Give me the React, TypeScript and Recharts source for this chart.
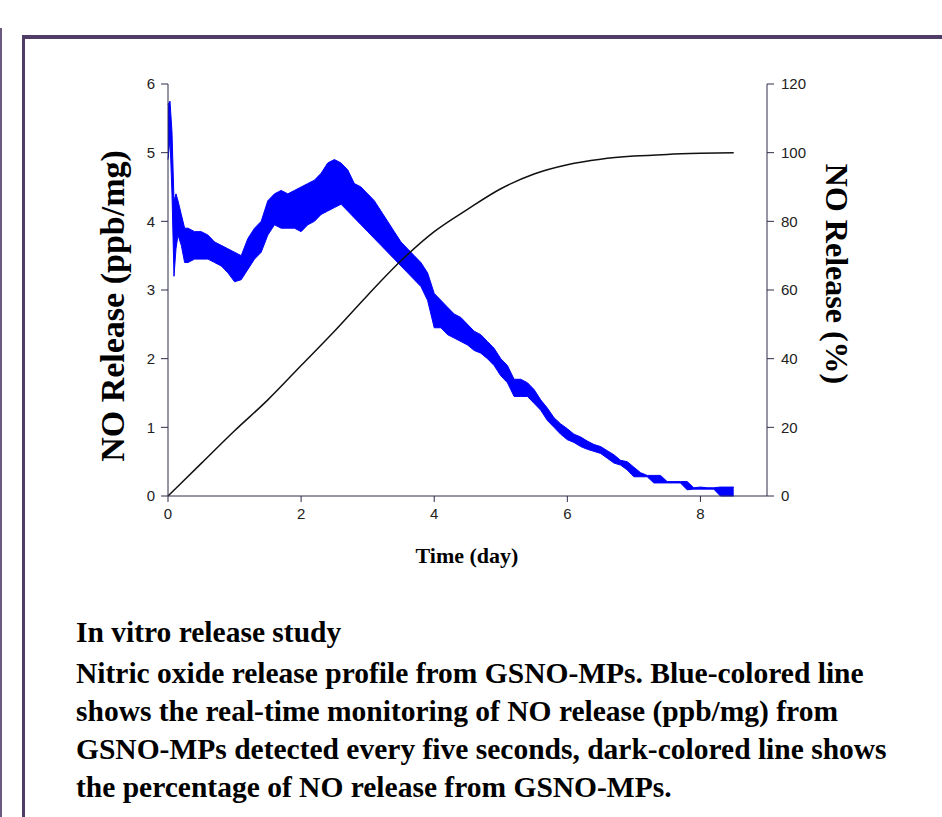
import { Area, ComposedChart, Line, XAxis, YAxis } from "recharts";

// real-time NO signal, read as a lower/upper envelope of the noisy trace (ppb/mg)
const BLUE_TIME = [
  0, 0.03, 0.06, 0.09, 0.12, 0.15, 0.2, 0.25, 0.3, 0.4, 0.5, 0.6, 0.7, 0.8, 0.9, 1.0, 1.1, 1.2, 1.3, 1.4,
  1.5, 1.6, 1.7, 1.8, 1.9, 2.0, 2.1, 2.2, 2.3, 2.4, 2.5, 2.6, 2.7, 2.8, 2.9, 3.0, 3.1, 3.2, 3.3, 3.4,
  3.5, 3.6, 3.7, 3.8, 3.9, 4.0, 4.1, 4.2, 4.3, 4.4, 4.5, 4.6, 4.7, 4.8, 4.9, 5.0, 5.1, 5.2, 5.3, 5.4,
  5.5, 5.6, 5.7, 5.8, 5.9, 6.0, 6.1, 6.2, 6.3, 6.4, 6.5, 6.6, 6.7, 6.8, 6.9, 7.0, 7.1, 7.2, 7.3, 7.4,
  7.5, 7.6, 7.7, 7.8, 7.9, 8.0, 8.1, 8.2, 8.3, 8.4, 8.5,
];
const BLUE_LOW = [
  4.9, 5.2, 4.4, 3.2, 3.6, 3.8, 3.65, 3.4, 3.4, 3.45, 3.45, 3.45, 3.4, 3.35, 3.25, 3.12, 3.15, 3.3, 3.45, 3.55,
  3.8, 3.95, 3.9, 3.9, 3.9, 3.85, 3.95, 4.0, 4.1, 4.15, 4.2, 4.25, 4.15, 4.05, 3.95, 3.85, 3.75, 3.65, 3.55, 3.45,
  3.35, 3.25, 3.15, 3.05, 2.85, 2.45, 2.45, 2.35, 2.3, 2.25, 2.2, 2.12, 2.08, 2.0, 1.9, 1.75, 1.65, 1.45, 1.45, 1.45,
  1.35, 1.25, 1.1, 1.0, 0.9, 0.82, 0.78, 0.72, 0.68, 0.65, 0.62, 0.55, 0.48, 0.45, 0.38, 0.28, 0.28, 0.28, 0.19, 0.19,
  0.19, 0.19, 0.19, 0.09, 0.1, 0.1, 0.1, 0.1, 0.0, 0.0, 0.0,
];
const BLUE_HIGH = [
  5.7, 5.75, 5.3, 4.3, 4.4, 4.3, 4.1, 3.9, 3.9, 3.85, 3.85, 3.8, 3.7, 3.65, 3.6, 3.55, 3.5, 3.75, 3.9, 4.0,
  4.3, 4.4, 4.45, 4.4, 4.45, 4.5, 4.55, 4.6, 4.7, 4.85, 4.9, 4.85, 4.75, 4.55, 4.5, 4.4, 4.3, 4.15, 4.0, 3.85,
  3.7, 3.6, 3.5, 3.4, 3.25, 2.95, 2.85, 2.75, 2.65, 2.6, 2.5, 2.4, 2.35, 2.25, 2.15, 2.0, 1.9, 1.7, 1.7, 1.65,
  1.55, 1.4, 1.28, 1.14, 1.05, 0.98, 0.9, 0.86, 0.8, 0.75, 0.72, 0.66, 0.6, 0.52, 0.5, 0.42, 0.34, 0.3, 0.3, 0.3,
  0.21, 0.21, 0.21, 0.21, 0.12, 0.13, 0.12, 0.12, 0.13, 0.13, 0.13,
];

// cumulative NO release (%)
const PCT_TIME = [0, 0.5, 1.0, 1.5, 2.0, 2.5, 3.0, 3.5, 4.0, 4.5, 5.0, 5.5, 6.0, 6.5, 7.0, 7.5, 8.0, 8.5];
const PCT_VALUE = [0, 9.5, 19, 28, 38, 48, 58.5, 68.5, 77, 83.5, 89.5, 93.8, 96.5, 98.1, 99, 99.5, 99.8, 100];

const X_TICKS = [0, 2, 4, 6, 8];
const LEFT_TICKS = [0, 1, 2, 3, 4, 5, 6];
const RIGHT_TICKS = [0, 20, 40, 60, 80, 100, 120];

const CAPTION_TITLE = "In vitro release study";
const CAPTION = [
  "Nitric oxide release profile from GSNO-MPs. Blue-colored line",
  "shows the real-time monitoring of NO release (ppb/mg) from",
  "GSNO-MPs detected every five seconds, dark-colored line shows",
  "the percentage of NO release from GSNO-MPs.",
];

const data = BLUE_TIME.map((t, i) => {
  const j = PCT_TIME.indexOf(t);
  return {
    t,
    blue: [BLUE_LOW[i], BLUE_HIGH[i]],
    pct: j >= 0 ? PCT_VALUE[j] : undefined,
  };
});

const axisColor = "#2e2d48";
const serif = "'Liberation Serif', 'Times New Roman', serif";
const sans = "'Liberation Sans', Arial, sans-serif";

// own tick text so the font size sticks
function makeTick(anchor: "start" | "middle" | "end", dy: string) {
  return (props: any) => (
    <text
      x={props.x}
      y={props.y}
      dy={dy}
      textAnchor={anchor}
      fill="#222"
      fontSize={15}
      fontFamily={sans}
    >
      {props.payload.value}
    </text>
  );
}

export default function App() {
  return (
    <div style={{ position: "absolute", left: 0, top: 0, width: 942, height: 817, background: "#fff", overflow: "hidden" }}>
      {/* frame lines */}
      <div style={{ position: "absolute", left: 0, top: 28, width: 2, height: 800, background: "#6a5a80" }} />
      <div style={{ position: "absolute", left: 22, top: 35, width: 3, height: 800, background: "#4f3d68" }} />
      <div style={{ position: "absolute", left: 22, top: 35, width: 940, height: 4, background: "#4f3d68" }} />

      <div style={{ position: "absolute", left: 0, top: 0 }}>
        <ComposedChart width={942} height={526} data={data} margin={{ top: 84, right: 0, bottom: 0, left: 0 }}>
          <XAxis
            dataKey="t"
            type="number"
            domain={[0, 9]}
            ticks={X_TICKS}
            height={30}
            tick={makeTick("middle", "0.71em")}
            tickSize={6}
            tickMargin={6}
            axisLine={{ stroke: axisColor }}
            tickLine={{ stroke: axisColor }}
          />
          <YAxis
            yAxisId="left"
            domain={[0, 6]}
            ticks={LEFT_TICKS}
            width={168}
            tick={makeTick("end", "0.355em")}
            tickSize={7}
            tickMargin={6}
            axisLine={{ stroke: axisColor }}
            tickLine={{ stroke: axisColor }}
          />
          <YAxis
            yAxisId="right"
            orientation="right"
            domain={[0, 120]}
            ticks={RIGHT_TICKS}
            width={175}
            tick={makeTick("start", "0.355em")}
            tickSize={7}
            tickMargin={7}
            axisLine={{ stroke: axisColor }}
            tickLine={{ stroke: axisColor }}
          />
          <Area
            yAxisId="left"
            dataKey="blue"
            type="linear"
            stroke="#0000ff"
            strokeWidth={1}
            fill="#0000ff"
            fillOpacity={1}
            isAnimationActive={false}
          />
          <Line
            yAxisId="right"
            dataKey="pct"
            type="monotone"
            stroke="#111"
            strokeWidth={1.5}
            dot={false}
            connectNulls
            isAnimationActive={false}
          />
        </ComposedChart>
      </div>

      {/* axis titles */}
      <div
        style={{
          position: "absolute",
          left: 113,
          top: 306,
          transform: "translate(-50%, -50%) rotate(-90deg)",
          whiteSpace: "nowrap",
          fontFamily: serif,
          fontWeight: "bold",
          fontSize: 34,
          color: "#000",
        }}
      >
        NO Release (ppb/mg)
      </div>
      <div
        style={{
          position: "absolute",
          left: 836,
          top: 274,
          transform: "translate(-50%, -50%) rotate(90deg)",
          whiteSpace: "nowrap",
          fontFamily: serif,
          fontWeight: "bold",
          fontSize: 32,
          color: "#000",
        }}
      >
        NO Release (%)
      </div>
      <div
        style={{
          position: "absolute",
          left: 467,
          top: 556,
          transform: "translate(-50%, -50%)",
          whiteSpace: "nowrap",
          fontFamily: serif,
          fontWeight: "bold",
          fontSize: 22,
          color: "#000",
        }}
      >
        Time (day)
      </div>

      {/* caption */}
      <div
        style={{
          position: "absolute",
          left: 76,
          top: 613,
          fontFamily: serif,
          fontWeight: "bold",
          fontSize: 29.5,
          lineHeight: "38px",
          color: "#000",
          whiteSpace: "nowrap",
        }}
      >
        <div style={{ marginBottom: 3 }}>{CAPTION_TITLE}</div>
        {CAPTION.map((line) => (
          <div key={line}>{line}</div>
        ))}
      </div>
    </div>
  );
}
